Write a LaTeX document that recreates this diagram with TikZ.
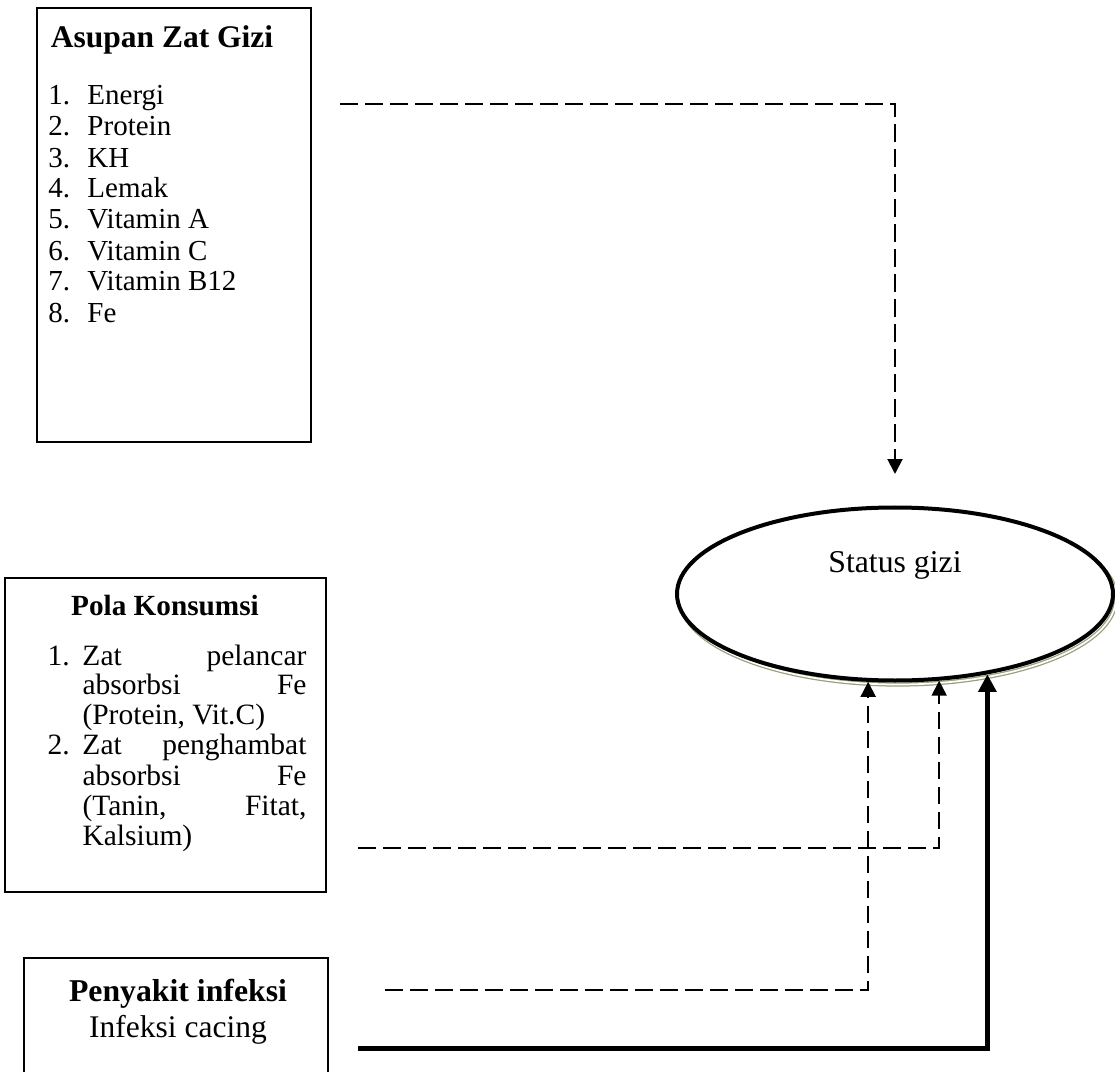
\documentclass[tikz,border=0pt]{standalone}
\usepackage{fontspec}
\setmainfont{Liberation Serif}
\usetikzlibrary{arrows.meta,positioning,shapes.geometric,calc}
\definecolor{shadowgreen}{RGB}{150,160,122}
\tikzstyle{box}      =[draw,rectangle,inner sep=0pt,outer sep=0pt,anchor=north west]
\tikzstyle{title}    =[inner sep=0pt,anchor=base,font=\fontsize{12}{14}\selectfont\bfseries]
\tikzstyle{itemlist} =[inner sep=0pt,anchor=base west,align=left]
\tikzstyle{dashflow} =[line width=0.8pt,dash pattern=on 7pt off 3pt,-{Triangle[width=6pt,length=6pt]}]
\tikzstyle{solidflow}=[line width=2pt,-{Triangle[width=7pt,length=7pt]}]

\begin{document}
\begin{tikzpicture}[x=0.4pt,y=-0.4pt]
\useasboundingbox (0,0) rectangle (1115,1072);

% kotak-kotak
\node [box,line width=0.8pt,minimum width=109.6pt,minimum height=173.6pt] (asupan) at (37,8) {};
\node [box,line width=0.5pt,minimum width=128.4pt,minimum height=125.6pt] (pola) at (5,578) {};
\node [box,line width=0.5pt,minimum width=121.6pt,minimum height=50pt] (infeksi) at (24,958) {};

% isi kotak (base = baris terakhir)
\node [title,font=\fontsize{12.6}{14}\selectfont\bfseries] (asupanTitle) at (162,48) {Asupan Zat Gizi};
\node [itemlist,font=\fontsize{11.6}{12.4}\selectfont] (asupanList) at (48,322) {%
	\makebox[15.6pt][l]{1.}Energi\\
	\makebox[15.6pt][l]{2.}Protein\\
	\makebox[15.6pt][l]{3.}KH\\
	\makebox[15.6pt][l]{4.}Lemak\\
	\makebox[15.6pt][l]{5.}Vitamin A\\
	\makebox[15.6pt][l]{6.}Vitamin C\\
	\makebox[15.6pt][l]{7.}Vitamin B12\\
	\makebox[15.6pt][l]{8.}Fe};

\node [title,font=\fontsize{11.7}{14}\selectfont\bfseries] (polaTitle) at (165,615) {Pola Konsumsi};
\node [itemlist,font=\fontsize{11.8}{12}\selectfont] (polaList) at (47,845) {%
	\makebox[14pt][l]{1.}\makebox[89.6pt][l]{Zat\hfill pelancar}\\
	\hspace*{14pt}\makebox[89.6pt][l]{absorbsi\hfill Fe}\\
	\hspace*{14pt}(Protein, Vit.C)\\
	\makebox[14pt][l]{2.}\makebox[89.6pt][l]{Zat\hfill penghambat}\\
	\hspace*{14pt}\makebox[89.6pt][l]{absorbsi\hfill Fe}\\
	\hspace*{14pt}\makebox[89.6pt][l]{(Tanin,\hfill Fitat,}\\
	\hspace*{14pt}Kalsium)};

\node [title,font=\fontsize{12.7}{14}\selectfont\bfseries] (infeksiTitle) at (178,1001) {Penyakit infeksi};
\node [title,font=\fontsize{12.6}{14}\selectfont] (cacing) at (178,1037) {Infeksi cacing};

% status gizi
\node [ellipse,draw=shadowgreen,double=white,double distance=0.7pt,line width=0.5pt,
	minimum width=174.4pt,minimum height=69.2pt,inner sep=0pt] (giziShadow) at (898,598) {};
\node [ellipse,draw,fill=white,line width=1.6pt,
	minimum width=174.4pt,minimum height=69.2pt,inner sep=0pt] (gizi) at (895,594) {};
\node [anchor=base,inner sep=0pt,font=\fontsize{12.7}{14}\selectfont] (giziText) at ($(gizi.center)+(0,-22)$) {Status gizi};

% panah
\coordinate (asupanOut) at (340,104);
\coordinate (asupanIn) at (895,474);
\coordinate (polaOut) at (358,848);
\coordinate (infeksiOut) at (385,990);
\coordinate (cacingOut) at (358,1048);

\draw [dashflow] (asupanOut) -| (asupanIn);
\draw [dashflow] (polaOut) -| (gizi.-63.5);
\draw [dashflow] (infeksiOut) -| (gizi.-107.2);
\draw [solidflow] (cacingOut) -| (gizi.-41.7);
\end{tikzpicture}
\end{document}
